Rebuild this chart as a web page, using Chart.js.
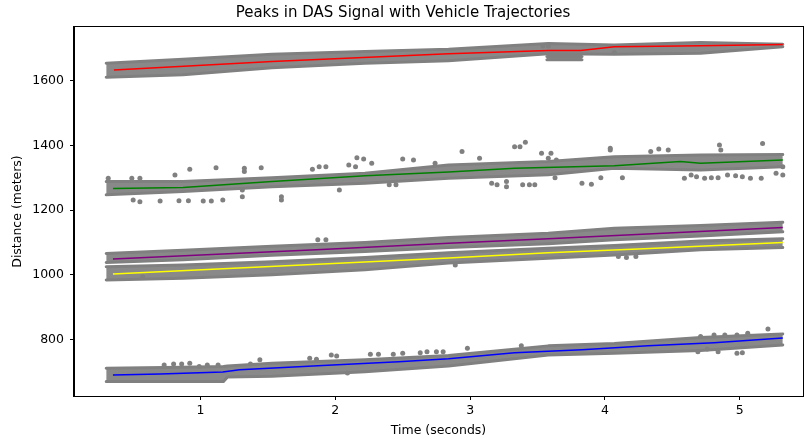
<!DOCTYPE html>
<html>
<head>
<meta charset="utf-8">
<script src="https://cdn.jsdelivr.net/npm/chart.js@4"></script>
<style>
  html, body { margin: 0; padding: 0; background: #fff; overflow: hidden; }
</style>
</head>
<body>
<canvas id="chart" width="807" height="443"></canvas>
<script>
// tick labels
const xTicks = [1, 2, 3, 4, 5];
const yTicks = [800, 1000, 1200, 1400, 1600];

// gray peak clouds: time knots, upper and lower edge (meters)
const bandTimes = [0.30, 0.87, 1.53, 2.22, 2.84, 3.58, 4.07, 4.71, 5.32];
const redBandTop = [1654, 1666, 1682, 1690, 1697, 1715, 1710, 1718, 1713];
const redBandBottom = [1611, 1618, 1640, 1654, 1662, 1683, 1682, 1685, 1705];
const redStreakTimes = [3.57, 3.83];
const redStreakTop = [1675, 1675];
const redStreakBottom = [1665, 1665];
const greenBandTop = [1288, 1288, 1300, 1314, 1339, 1350, 1365, 1370, 1372];
const greenBandBottom = [1247, 1257, 1272, 1283, 1298, 1309, 1329, 1324, 1334];
const purpleBandTop = [1066, 1076, 1088, 1100, 1115, 1128, 1144, 1152, 1162];
const purpleBandBottom = [1038, 1046, 1060, 1072, 1084, 1096, 1108, 1120, 1133];
const yellowBandTop = [1025, 1030, 1040, 1053, 1068, 1082, 1090, 1104, 1111];
const yellowBandBottom = [984, 989, 1000, 1015, 1036, 1051, 1061, 1077, 1084];
const blueBandTimes = [0.30, 0.87, 1.17, 1.20, 1.53, 2.22, 2.84, 3.58, 4.07, 4.71, 5.32];
const blueBandTop = [711, 714, 716, 718, 726, 737, 750, 780, 787, 806, 817];
const blueBandBottom = [670, 670, 670, 684, 686, 700, 718, 752, 757, 766, 783];

// scattered peaks away from the clouds
const redOutT = [3.54, 3.58, 4.07];
const redOutV = [1707, 1707, 1687];
const greenOutT = [0.315, 0.49, 0.55, 0.50, 0.55, 0.70, 0.81, 0.84, 0.91, 0.92, 1.02, 1.08, 1.115, 1.165,
  1.325, 1.325, 1.45, 1.31, 1.31, 1.60, 1.60, 1.83, 1.88, 1.93, 2.03, 2.10, 2.15, 2.16, 2.21, 2.27,
  2.50, 2.58, 2.40, 2.45, 2.74, 2.94, 3.07, 3.16, 3.20, 3.27, 3.27, 3.33, 3.37, 3.41, 3.39, 3.44,
  3.48, 3.53, 3.58, 3.60, 3.64, 3.63, 3.83, 3.90, 4.04, 4.04, 3.97, 4.13, 4.34, 4.40, 4.47, 4.59,
  4.64, 4.68, 4.74, 4.79, 4.84, 4.91, 4.97, 5.02, 5.08, 5.16, 4.85, 4.86, 5.17, 5.32, 5.32, 5.27];
const greenOutV = [1298, 1298, 1298, 1231, 1226, 1228, 1308, 1229, 1229, 1326, 1228, 1228, 1331, 1231,
  1329, 1319, 1331, 1262, 1241, 1241, 1231, 1326, 1334, 1334, 1262, 1339, 1334, 1362, 1358, 1345,
  1358, 1355, 1278, 1278, 1345, 1381, 1360, 1283, 1278, 1288, 1272, 1396, 1396, 1410, 1278, 1278,
  1278, 1376, 1360, 1376, 1355, 1300, 1283, 1280, 1386, 1391, 1300, 1300, 1381, 1389, 1386, 1298,
  1308, 1303, 1298, 1300, 1300, 1308, 1306, 1303, 1298, 1298, 1401, 1386, 1406, 1334, 1308, 1314];
const purpleOutT = [1.87, 1.93];
const purpleOutV = [1108, 1108];
const yellowOutT = [0.57, 2.89, 4.10, 4.16, 4.23];
const yellowOutV = [994, 1030, 1056, 1053, 1056];
const blueOutT = [0.73, 0.80, 0.86, 0.92, 0.99, 1.05, 1.13, 1.37, 1.44, 1.81, 1.86, 1.97, 2.01, 2.09,
  2.26, 2.32, 2.43, 2.50, 2.63, 2.68, 2.75, 2.80, 2.98, 3.38, 4.69, 4.76, 4.84, 4.98, 5.02, 4.71,
  4.81, 4.89, 4.98, 5.06, 5.21];
const blueOutV = [721, 724, 724, 726, 716, 721, 721, 724, 737, 742, 739, 752, 749, 696,
  754, 754, 754, 757, 759, 762, 762, 762, 773, 780, 762, 770, 762, 757, 759, 809,
  814, 814, 814, 819, 832];

// vehicle trajectories
const redLineT = [0.357, 1.53, 2.84, 3.58, 3.82, 4.07, 4.71, 5.32];
const redLineV = [1633, 1659, 1683, 1693, 1693, 1705, 1708, 1712];
const greenLineT = [0.35, 0.87, 1.53, 2.22, 2.84, 3.33, 4.07, 4.56, 4.71, 5.32];
const greenLineV = [1267, 1270, 1288, 1306, 1318, 1329, 1337, 1350, 1345, 1355];
const purpleLineT = [0.35, 1.90, 2.84, 3.58, 5.32];
const purpleLineV = [1049, 1078, 1097, 1111, 1146];
const yellowLineT = [0.35, 2.84, 3.58, 4.29, 5.32];
const yellowLineV = [1002, 1052, 1068, 1080, 1100];
const blueLineT = [0.35, 0.70, 1.165, 1.29, 1.98, 2.47, 2.84, 3.33, 3.83, 4.32, 4.81, 5.32];
const blueLineV = [690, 693, 699, 706, 721, 731, 740, 759, 768, 780, 790, 804];

const GRAY = '#808080';
const FONT = 'DejaVu Sans';

const pts = (ts, vs) => ts.map((t, i) => ({ x: t, y: vs[i] }));

function band(ts, top, bottom) {
    const edge = { borderColor: GRAY, borderWidth: 3, borderJoinStyle: 'round', borderCapStyle: 'round', pointRadius: 0, order: 3 };
    return [
        { ...edge, data: pts(ts, bottom), fill: false },
        { ...edge, data: pts(ts, top), fill: '-1', backgroundColor: '#898989' }
    ];
}

function dots(ts, vs) {
    return { data: pts(ts, vs), showLine: false, pointRadius: 2.5, pointBorderWidth: 0, pointBackgroundColor: GRAY, order: 2 };
}

function track(ts, vs, color) {
    return { data: pts(ts, vs), borderColor: color, borderWidth: 1.5, pointRadius: 0, fill: false, order: 1 };
}

const datasets = [
    ...band(bandTimes, redBandTop, redBandBottom),
    ...band(redStreakTimes, redStreakTop, redStreakBottom),
    ...band(bandTimes, greenBandTop, greenBandBottom),
    ...band(bandTimes, purpleBandTop, purpleBandBottom),
    ...band(bandTimes, yellowBandTop, yellowBandBottom),
    ...band(blueBandTimes, blueBandTop, blueBandBottom),
    dots(redOutT, redOutV),
    dots(greenOutT, greenOutV),
    dots(purpleOutT, purpleOutV),
    dots(yellowOutT, yellowOutV),
    dots(blueOutT, blueOutV),
    track(redLineT, redLineV, '#ff0000'),
    track(greenLineT, greenLineV, '#008000'),
    track(purpleLineT, purpleLineV, '#800080'),
    track(yellowLineT, yellowLineV, '#ffff00'),
    track(blueLineT, blueLineV, '#0000ff')
];

// box around the plot area like matplotlib spines
const frame = {
    id: 'frame',
    afterDraw(chart) {
        const a = chart.chartArea;
        const ctx = chart.ctx;
        ctx.save();
        ctx.strokeStyle = '#000';
        ctx.lineWidth = 1;
        ctx.strokeRect(Math.round(a.left) - 0.5, Math.round(a.top) - 0.5,
            Math.round(a.right - a.left) + 1, Math.round(a.bottom - a.top) + 1);
        ctx.restore();
    }
};

new Chart(document.getElementById('chart'), {
    type: 'line',
    data: { datasets },
    plugins: [frame],
    options: {
        responsive: false,
        animation: false,
        devicePixelRatio: 1,
        layout: { padding: { left: 0, right: 1, top: 0, bottom: 0 } },
        plugins: {
            legend: { display: false },
            tooltip: { enabled: false },
            title: {
                display: true,
                text: 'Peaks in DAS Signal with Vehicle Trajectories',
                color: '#000',
                font: { family: FONT, size: 15, weight: 'normal', lineHeight: 1.2 },
                padding: { top: 4, bottom: 5 }
            }
        },
        scales: {
            x: {
                type: 'linear',
                min: 0.061,
                max: 5.47,
                afterBuildTicks: s => { s.ticks = xTicks.map(v => ({ value: v })); },
                afterFit: s => { s.height = 47; },
                grid: { drawOnChartArea: false, drawTicks: true, tickLength: 4, color: '#000' },
                border: { display: true, color: '#000' },
                ticks: { color: '#000', font: { family: FONT, size: 12.5 }, padding: 3, maxRotation: 0, callback: v => String(v) },
                title: { display: true, text: 'Time (seconds)', color: '#000', font: { family: FONT, size: 12.5, lineHeight: 1.2 }, padding: { top: 0, bottom: 4.5 } }
            },
            y: {
                type: 'linear',
                min: 625,
                max: 1766,
                afterBuildTicks: s => { s.ticks = yTicks.map(v => ({ value: v })); },
                afterFit: s => { s.width = 74; },
                grid: { drawOnChartArea: false, drawTicks: true, tickLength: 4, color: '#000' },
                border: { display: true, color: '#000' },
                ticks: { color: '#000', font: { family: FONT, size: 12.5 }, padding: 6, callback: v => String(v) },
                title: { display: true, text: 'Distance (meters)', color: '#000', font: { family: FONT, size: 12.5, lineHeight: 1.2 }, padding: { top: 10.5, bottom: 0 } }
            }
        }
    }
});
</script>
</body>
</html>
